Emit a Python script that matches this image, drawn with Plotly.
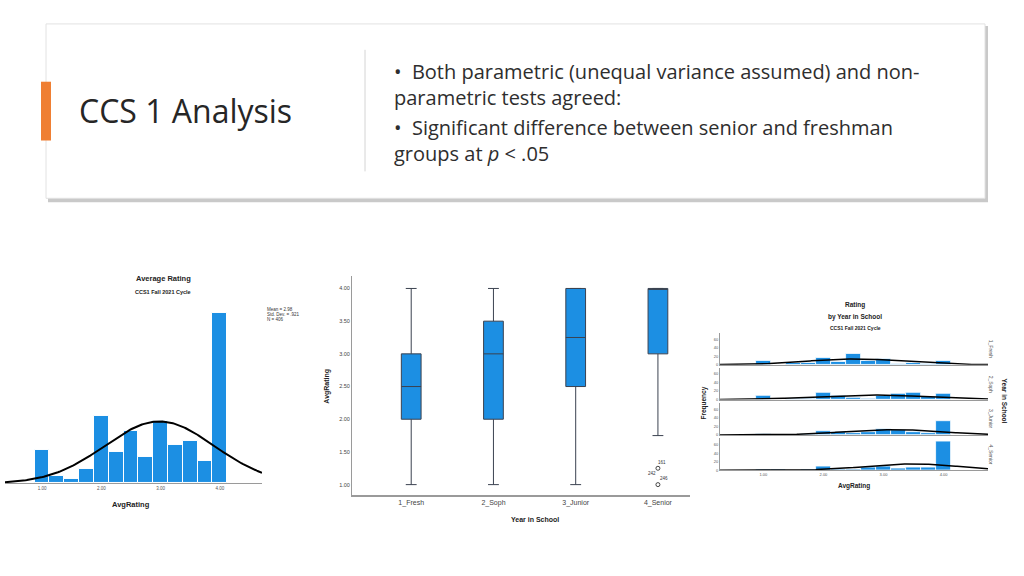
import numpy as np
import plotly.graph_objects as go

W, H = 1024, 576

# ---------------- data ----------------
bin_centers = [1.0, 1.25, 1.5, 1.75, 2.0, 2.25, 2.5, 2.75, 3.0, 3.25, 3.5, 3.75, 4.0]
overall_counts = [24, 5, 3, 10, 48, 22, 37, 19, 44, 27, 30, 16, 121]
overall_mean = 2.98
overall_sd = 0.921
overall_n = 406

year_labels = ["1_Fresh", "2_Soph", "3_Junior", "4_Senior"]
fresh_counts = [10, 0, 4, 5, 16, 6, 26, 8, 14, 3, 5, 3, 10]
soph_counts = [10, 0, 1, 2, 16, 8, 5, 1, 10, 13, 15, 6, 13]
junior_counts = [3, 0, 0, 1, 10, 7, 5, 6, 14, 11, 7, 5, 32]
senior_counts = [1, 2, 0, 1, 8, 3, 3, 7, 8, 4, 6, 6, 68]

box_q1 = [2.0, 2.0, 2.5, 3.0]
box_median = [2.5, 3.0, 3.25, 4.0]
box_q3 = [3.0, 3.5, 4.0, 4.0]
box_lower = [1.0, 1.0, 1.0, 1.75]
box_upper = [4.0, 4.0, 4.0, 4.0]
outlier_x = ["4_Senior", "4_Senior"]
outlier_y = [1.25, 1.0]

tick_vals_rating = [1, 2, 3, 4]
tick_text_rating = ["1.00", "2.00", "3.00", "4.00"]
box_ytick_vals = [1.0, 1.5, 2.0, 2.5, 3.0, 3.5, 4.0]
box_ytick_text = ["1.00", "1.50", "2.00", "2.50", "3.00", "3.50", "4.00"]
freq_ticks = [0, 20, 40, 60]

BLUE = "#1c8fe3"
ARIAL = "Liberation Sans, Arial, sans-serif"
SLIDE = "Open Sans, sans-serif"


def dx(p):
    return p / W


def dy(p):
    return 1 - p / H


def normal_curve(xs, mean, sd, n, bw=0.25):
    return n * bw / (sd * np.sqrt(2 * np.pi)) * np.exp(-0.5 * ((xs - mean) / sd) ** 2)


fig = go.Figure()
annotations = []
shapes = []


def ann(x, y, text, size, color="#222", family=ARIAL, bold=False, xanchor="center",
        yanchor="middle", angle=0, align="center"):
    if bold:
        text = "<b>" + text + "</b>"
    annotations.append(dict(x=dx(x), y=dy(y), xref="paper", yref="paper", text=text,
                            showarrow=False, xanchor=xanchor, yanchor=yanchor, align=align,
                            textangle=angle, font=dict(size=size, color=color, family=family)))


# ---------------- slide card ----------------
shapes.append(dict(type="rect", xref="paper", yref="paper", x0=dx(48), x1=dx(988),
                   y0=dy(203), y1=dy(26), fillcolor="#c9c9c9", line=dict(width=0), layer="below"))
shapes.append(dict(type="rect", xref="paper", yref="paper", x0=dx(46), x1=dx(985),
                   y0=dy(199), y1=dy(24), fillcolor="white", line=dict(color="#e2e2e2", width=1),
                   layer="below"))
shapes.append(dict(type="rect", xref="paper", yref="paper", x0=dx(41), x1=dx(51),
                   y0=dy(141), y1=dy(82), fillcolor="#ef7f33", line=dict(width=0)))
shapes.append(dict(type="line", xref="paper", yref="paper", x0=dx(365), x1=dx(365),
                   y0=dy(172), y1=dy(50), line=dict(color="#d4d4d4", width=1)))

ann(77, 111, "CCS 1 Analysis", 32, color="#262626", family=SLIDE, xanchor="left")
BUL = 20
ann(392, 84.5, "•  Both parametric (unequal variance assumed) and non-<br>"
    "parametric tests agreed:", BUL, color="#2e2e2e", family=SLIDE, xanchor="left",
    align="left")
ann(392, 140.5, "•  Significant difference between senior and freshman<br>"
    "groups at <i>p</i> < .05", BUL, color="#2e2e2e", family=SLIDE, xanchor="left",
    align="left")

# ---------------- left histogram ----------------
fig.add_trace(go.Bar(x=bin_centers, y=overall_counts, width=0.25, marker=dict(color=BLUE,
                     line=dict(color="white", width=1)), xaxis="x", yaxis="y", showlegend=False))
xs = np.linspace(0.376, 4.71, 200)
fig.add_trace(go.Scatter(x=xs, y=normal_curve(xs, overall_mean, overall_sd, overall_n),
                         mode="lines", line=dict(color="black", width=2), xaxis="x", yaxis="y",
                         showlegend=False))
ann(163, 279, "Average Rating", 7.5, bold=True)
ann(163, 293, "CCS1 Fall 2021 Cycle", 5.5, bold=True)
ann(265, 311, "Mean = 2.98", 4.5, color="#333", xanchor="left")
ann(265, 316, "Std. Dev. = .921", 4.5, color="#333", xanchor="left")
ann(265, 321, "N = 406", 4.5, color="#333", xanchor="left")
ann(131, 506, "AvgRating", 7.5, bold=True)

# ---------------- middle boxplot ----------------
fig.add_trace(go.Box(x=year_labels, q1=box_q1, median=box_median, q3=box_q3,
                     lowerfence=box_lower, upperfence=box_upper, width=0.24,
                     fillcolor=BLUE, line=dict(color="#3b4250", width=1), whiskerwidth=0.55,
                     xaxis="x2", yaxis="y2", showlegend=False, boxpoints=False))
fig.add_trace(go.Scatter(x=outlier_x, y=outlier_y, mode="markers",
                         marker=dict(symbol="circle-open", size=4, color="#444",
                                     line=dict(width=1)),
                         xaxis="x2", yaxis="y2", showlegend=False))
for txt, xv, yv, xs_, ys_ in [("161", outlier_x[0], outlier_y[0], 4, 6),
                              ("242", outlier_x[0], outlier_y[0], -6, -5),
                              ("246", outlier_x[1], outlier_y[1], 6, 6)]:
    annotations.append(dict(x=xv, y=yv, xref="x2", yref="y2", text=txt, showarrow=False,
                            xshift=xs_, yshift=ys_, font=dict(size=4.5, color="#333",
                                                               family=ARIAL)))
ann(327, 388, "AvgRating", 7, bold=True, angle=-90)
ann(535, 521, "Year in School", 7, bold=True)

# ---------------- right panel histograms ----------------
panel_counts = [fresh_counts, soph_counts, junior_counts, senior_counts]
panel_bottoms = [366, 401, 436.5, 472]
xs2 = np.linspace(0.278, 4.74, 200)
centers = np.array(bin_centers)
for i, cnts in enumerate(panel_counts):
    xa = "x%d" % (3 + i)
    ya = "y%d" % (3 + i)
    fig.add_trace(go.Bar(x=bin_centers, y=cnts, width=0.25,
                         marker=dict(color=BLUE, line=dict(color="white", width=0.8)),
                         xaxis=xa, yaxis=ya, showlegend=False))
    c = np.array(cnts, dtype=float)
    n = c.sum()
    m = (c * centers).sum() / n
    sd = np.sqrt((c * (centers - m) ** 2).sum() / (n - 1))
    fig.add_trace(go.Scatter(x=xs2, y=normal_curve(xs2, m, sd, n), mode="lines",
                             line=dict(color="black", width=1.5), xaxis=xa, yaxis=ya,
                             showlegend=False))
    ann(991, panel_bottoms[i] - 16, year_labels[i], 5, color="#555", angle=90)

ann(855, 306, "Rating", 6.5, bold=True)
ann(855, 318, "by Year in School", 6.5, bold=True)
ann(855, 329, "CCS1 Fall 2021 Cycle", 5, bold=True)
ann(704, 405, "Frequency", 6.5, bold=True, angle=-90)
ann(1004, 402, "Year in School", 6.5, bold=True, angle=90)
ann(854, 488, "AvgRating", 6.5, bold=True)

# ---------------- layout ----------------
layout = dict(width=W, height=H, margin=dict(l=0, r=0, t=0, b=0),
              paper_bgcolor="white", plot_bgcolor="rgba(0,0,0,0)",
              bargap=0, showlegend=False, annotations=annotations, shapes=shapes)

layout["xaxis"] = dict(domain=[dx(5), dx(262)], range=[0.376, 4.71], showline=True,
                       linecolor="#9a9a9a", linewidth=1, showgrid=False, zeroline=False,
                       tickvals=tick_vals_rating, ticktext=tick_text_rating, ticks="",
                       tickfont=dict(size=4.5, color="#555", family=ARIAL), anchor="y")
layout["yaxis"] = dict(domain=[dy(485), dy(300)], range=[0, 131], visible=False,
                       anchor="x")

layout["xaxis2"] = dict(domain=[dx(352), dx(690)], range=[-0.72, 3.39], showline=True,
                        linecolor="#9a9a9a", linewidth=1.5, showgrid=False, zeroline=False,
                        type="category", categoryorder="array", categoryarray=year_labels,
                        ticks="", tickfont=dict(size=7, color="#444", family=ARIAL),
                        anchor="y2")
layout["yaxis2"] = dict(domain=[dy(497), dy(277)], range=[0.837, 4.19], showline=True,
                        linecolor="#9a9a9a", linewidth=1, showgrid=False, zeroline=False,
                        tickvals=box_ytick_vals, ticktext=box_ytick_text, ticks="",
                        tickfont=dict(size=5.5, color="#444", family=ARIAL), anchor="x2")

for i in range(4):
    b = panel_bottoms[i]
    layout["xaxis%d" % (3 + i)] = dict(domain=[dx(720), dx(988)], range=[0.278, 4.74],
                                       showline=True, linecolor="#9a9a9a", linewidth=1,
                                       showgrid=False, zeroline=False,
                                       tickvals=tick_vals_rating, ticktext=tick_text_rating,
                                       showticklabels=(i == 3), ticks="",
                                       tickfont=dict(size=4, color="#555", family=ARIAL),
                                       anchor="y%d" % (3 + i))
    layout["yaxis%d" % (3 + i)] = dict(domain=[dy(b), dy(b - 32)], range=[0, 74.7],
                                       showline=True, linecolor="#9a9a9a", linewidth=1,
                                       showgrid=False, zeroline=False, tickvals=freq_ticks,
                                       ticks="", tickfont=dict(size=4, color="#555",
                                                               family=ARIAL),
                                       anchor="x%d" % (3 + i))

fig.update_layout(**layout)
fig.write_html("out.html", config={"displayModeBar": False},
               post_script="document.body.style.margin='0';document.body.style.overflow='hidden';")
